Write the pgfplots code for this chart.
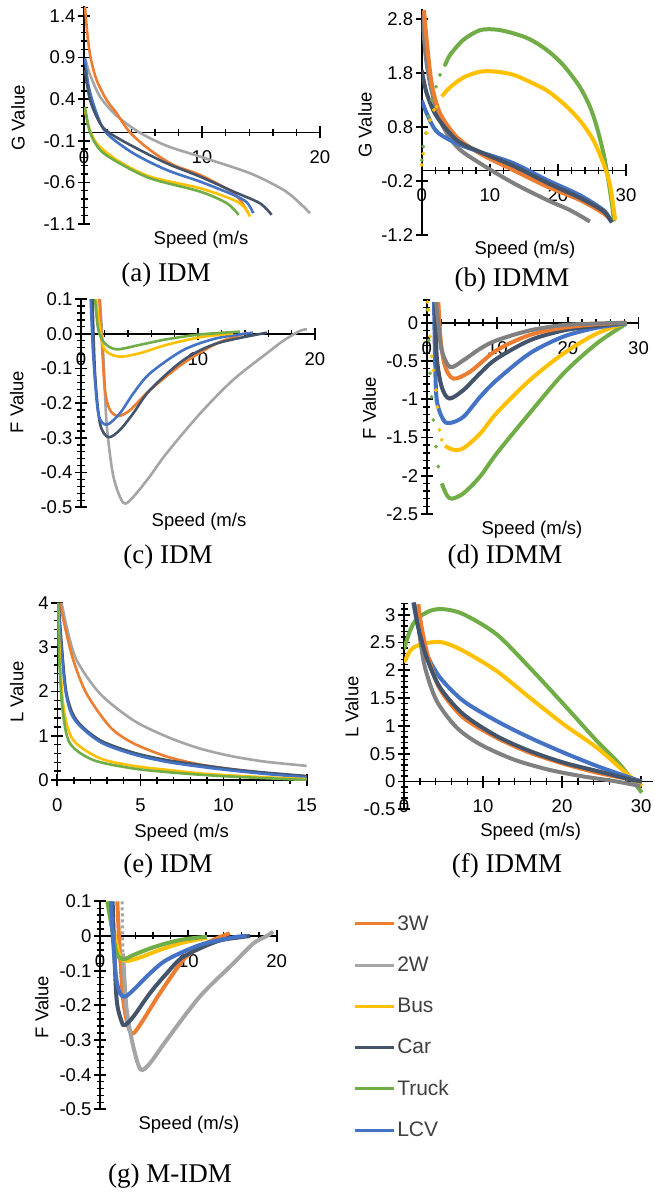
\documentclass[border=0pt]{standalone}
\usepackage{pgfplots}
\pgfplotsset{compat=1.18}
\usepackage{fontspec}
\setmainfont{Liberation Serif}
\newfontfamily\arial{Liberation Sans}

\definecolor{c3w}{HTML}{ED7D31}
\definecolor{c2w}{HTML}{A5A5A5}
\definecolor{c2wd}{HTML}{808080}
\definecolor{cbus}{HTML}{FFC000}
\definecolor{ccar}{HTML}{44546A}
\definecolor{ctruck}{HTML}{70AD47}
\definecolor{clcv}{HTML}{4472C4}

\newcommand\tickfont{\arial\fontsize{18.5}{20}\selectfont}
\newcommand\labfont{\arial\fontsize{18.5}{20}\selectfont}
\newcommand\capfont{\fontsize{27}{29}\selectfont}

\pgfplotsset{
  panel/.style={
    anchor=south west, scale only axis, enlargelimits=false,
    axis x line=middle, axis y line=left,
    axis line style={black, line width=1.6pt},
    every inner x axis line/.append style={-},
    every outer x axis line/.append style={-},
    every inner y axis line/.append style={-},
    every outer y axis line/.append style={-},
    tick align=center, major tick length=12pt, minor tick length=7pt,
    every tick/.style={draw=black, line width=1.8pt},
    every minor tick/.append style={line width=1.4pt},
    ticklabel style={font=\tickfont, text=black},
    xticklabel style={yshift=-9pt},
    yticklabel style={xshift=1pt},
    hide obscured x ticks=false, hide obscured y ticks=false,
  },
  idm/.style={smooth, line width=2.6pt},
  idmm/.style={smooth, line width=4pt},
  dots/.style={only marks, mark=*, mark size=1.7pt},
}

\begin{document}
\begin{tikzpicture}
\fill[white] (0,0) rectangle (654pt,-1192pt);
\useasboundingbox (0,0) rectangle (654pt,-1192pt);

% (a) IDM, G value
\begin{axis}[panel, at={(84pt,-224pt)}, width=236pt, height=218pt,
  xmin=0, xmax=20, ymin=-1.1, ymax=1.52,
  xtick={0,10,20}, xticklabels={0,10,20}, minor xtick={2,4,6,8,12,14,16,18},
  ytick={-1.1,-0.6,-0.1,0.4,0.9,1.4}, yticklabels={-1.1,-0.6,-0.1,0.4,0.9,1.4},
  minor ytick={-1.0,-0.9,-0.8,-0.7,-0.5,-0.4,-0.3,-0.2,0,0.1,0.2,0.3,0.5,0.6,0.7,0.8,1.0,1.1,1.2,1.3,1.5}]
\addplot[c2w, idm] coordinates {(0.1,0.89)(0.5,0.70)(1.36,0.43)(2.77,0.20)(4.7,0.0)(7,-0.16)(9.83,-0.29)(14.07,-0.49)(16.9,-0.69)(18.3,-0.85)(19.15,-0.97)};
\addplot[c3w, idm] coordinates {(0.08,1.51)(0.28,1.19)(0.56,0.90)(1.07,0.63)(1.92,0.39)(2.77,0.23)(3.90,0.0)(5.59,-0.21)(7.57,-0.39)(9.83,-0.51)(12.37,-0.70)(13.22,-0.81)(13.93,-0.97)};
\addplot[cbus, idm] coordinates {(0.08,0.27)(0.4,0.07)(1.07,-0.13)(2.77,-0.33)(5.59,-0.53)(9.83,-0.67)(12.66,-0.81)(13.6,-0.9)(14.07,-1.01)};
\addplot[ctruck, idm] coordinates {(0.08,0.31)(0.51,0.0)(1.36,-0.21)(2.77,-0.35)(5.59,-0.55)(9.83,-0.71)(12.1,-0.85)(13.1,-0.99)};
\addplot[clcv, idm] coordinates {(0.08,0.89)(0.4,0.55)(1.07,0.23)(1.92,-0.01)(4.18,-0.25)(7.0,-0.45)(9.83,-0.59)(12.66,-0.75)(13.8,-0.84)(14.35,-0.97)};
\addplot[ccar, idm] coordinates {(0.08,0.75)(0.51,0.39)(1.36,0.11)(2.2,-0.01)(4.18,-0.17)(7.0,-0.37)(9.83,-0.53)(12.66,-0.71)(14.9,-0.85)(15.9,-0.99)};
\end{axis}

% (b) IDMM, G value
\begin{axis}[panel, at={(421.7pt,-235pt)}, width=204.3pt, height=226.4pt,
  xmin=0, xmax=30, ymin=-1.2, ymax=3.0,
  xtick={0,10,20,30}, xticklabels={0,10,20,30}, minor xtick={2,4,6,8,12,14,16,18,22,24,26,28},
  ytick={-1.2,-0.2,0.8,1.8,2.8}, yticklabels={-1.2,-0.2,0.8,1.8,2.8}]
\addplot[ctruck, dots] coordinates {(0,0.19)(0.24,0.44)(0.64,0.69)(0.98,1.0)(1.47,1.30)(2.1,1.55)(2.69,1.77)(3.43,1.95)};
\addplot[ctruck, idmm] coordinates {(3.43,1.95)(4.16,2.14)(6.12,2.42)(8.57,2.60)(11.0,2.61)(13.5,2.54)(15.9,2.43)(18.4,2.23)(20.8,1.95)(23.2,1.55)(24.7,1.18)(25.7,0.81)(26.7,0.31)(27.4,-0.18)(28.0,-0.68)(28.2,-0.95)};
\addplot[cbus, dots] coordinates {(0,0.10)(0.24,0.31)(0.73,0.69)(1.22,0.93)(1.81,1.12)(2.2,1.18)};
\addplot[cbus, idmm] coordinates {(2.94,1.37)(4.16,1.54)(6.12,1.72)(8.57,1.83)(11.0,1.83)(13.5,1.77)(15.9,1.64)(18.4,1.48)(20.8,1.24)(23.2,0.93)(25.2,0.56)(26.7,0.12)(27.7,-0.30)(28.4,-0.92)};
\addplot[c2wd, idmm] coordinates {(0.15,2.91)(0.49,2.23)(1.22,1.61)(2.69,0.93)(5.14,0.44)(8.57,0.13)(13.5,-0.24)(18.4,-0.55)(21.8,-0.74)(24.7,-0.95)};
\addplot[c3w, idmm] coordinates {(0.34,2.97)(0.73,2.42)(1.47,1.61)(2.69,1.06)(5.14,0.62)(8.57,0.31)(13.5,0.0)(18.4,-0.30)(23.2,-0.55)(26.7,-0.80)(27.9,-0.95)};
\addplot[clcv, idmm] coordinates {(0,1.30)(0.73,1.06)(2.2,0.72)(5.14,0.50)(8.57,0.34)(13.5,0.13)(18.4,-0.18)(23.2,-0.46)(26.7,-0.74)(27.7,-0.92)};
\addplot[ccar, idmm] coordinates {(0,1.86)(0.73,1.43)(2.2,1.0)(5.14,0.56)(8.57,0.34)(13.5,0.08)(18.4,-0.23)(23.2,-0.51)(26.7,-0.76)(27.9,-0.97)};
\end{axis}

% (c) IDM, F value
\begin{axis}[panel, at={(81pt,-507.3pt)}, width=234pt, height=208.3pt,
  xmin=0, xmax=20, ymin=-0.5, ymax=0.1,
  xtick={0,10,20}, xticklabels={0,10,20}, minor xtick={2,4,6,8,12,14,16,18},
  ytick={-0.5,-0.4,-0.3,-0.2,-0.1,0,0.1}, yticklabels={-0.5,-0.4,-0.3,-0.2,-0.1,0.0,0.1},
  minor ytick={-0.48,-0.46,...,0.08}]
\addplot[c2w, idm] coordinates {(1.62,0.1)(1.91,-0.066)(2.19,-0.258)(2.76,-0.41)(3.62,-0.487)(4.47,-0.47)(5.9,-0.41)(7.32,-0.344)(10.2,-0.229)(13.0,-0.133)(15.9,-0.056)(17.3,-0.02)(18.7,0.008)(19.3,0.013)};
\addplot[c3w, idm] coordinates {(1.57,0.1)(1.77,-0.018)(2.05,-0.162)(2.48,-0.22)(3.19,-0.237)(4.19,-0.22)(5.9,-0.162)(8.75,-0.085)(11.6,-0.028)(14.2,0.003)};
\addplot[ccar, idm] coordinates {(0.98,0.1)(1.2,-0.114)(1.62,-0.258)(2.34,-0.298)(3.33,-0.277)(4.47,-0.229)(5.9,-0.162)(8.75,-0.076)(11.6,-0.028)(15.9,0.003)};
\addplot[clcv, idm] coordinates {(0.83,0.1)(1.05,-0.066)(1.48,-0.229)(2.19,-0.262)(3.33,-0.229)(4.47,-0.172)(5.9,-0.114)(8.75,-0.047)(11.6,-0.013)(14.7,0.003)};
\addplot[cbus, idm] coordinates {(1.28,0.1)(1.77,-0.018)(2.19,-0.052)(3.33,-0.066)(5.04,-0.056)(7.32,-0.032)(10.2,-0.01)(13.0,0.001)};
\addplot[ctruck, idm] coordinates {(1.2,0.1)(1.48,0.011)(2.05,-0.028)(3.05,-0.045)(5.04,-0.032)(7.32,-0.016)(10.2,-0.002)(13.6,0.006)};
\end{axis}

% (d) IDMM, F value
\begin{axis}[panel, at={(426.7pt,-514pt)}, width=211.8pt, height=214.2pt,
  xmin=0, xmax=30, ymin=-2.5, ymax=0.3,
  xtick={0,10,20,30}, xticklabels={0,10,20,30}, minor xtick={2,4,6,8,12,14,16,18,22,24,26,28},
  ytick={-2.5,-2,-1.5,-1,-0.5,0}, yticklabels={-2.5,-2,-1.5,-1,-0.5,0},
  minor ytick={-2.4,-2.3,...,0.25}]
\addplot[ctruck, dots] coordinates {(0.1,0.17)(0.28,-0.23)(0.47,-0.66)(0.71,-0.97)(0.94,-1.27)(1.32,-1.62)(1.65,-1.88)};
\addplot[ctruck, idmm] coordinates {(2.13,-2.10)(2.83,-2.25)(3.54,-2.30)(5.2,-2.23)(7.56,-2.01)(9.9,-1.71)(14.6,-1.18)(19.4,-0.66)(24.1,-0.27)(28.3,-0.01)};
\addplot[cbus, dots] coordinates {(0.1,0.27)(0.24,0.17)(0.47,-0.18)(0.71,-0.44)(0.94,-0.62)(1.32,-0.88)(1.51,-1.10)(1.8,-1.40)(2.13,-1.53)};
\addplot[cbus, idmm] coordinates {(2.6,-1.61)(3.78,-1.66)(5.2,-1.64)(7.56,-1.45)(9.9,-1.18)(14.6,-0.75)(19.4,-0.40)(24.1,-0.14)(28.3,0)};
\addplot[clcv, idmm] coordinates {(1.04,0.27)(1.18,-0.44)(1.42,-1.01)(2.36,-1.27)(3.31,-1.31)(5.2,-1.23)(7.56,-0.97)(9.9,-0.75)(14.6,-0.40)(19.4,-0.18)(24.1,-0.065)(28.3,-0.01)};
\addplot[ccar, idmm] coordinates {(1.23,0.27)(1.42,-0.44)(2.13,-0.84)(3.21,-0.99)(5.2,-0.88)(7.56,-0.66)(9.9,-0.47)(14.6,-0.23)(19.4,-0.10)(24.1,-0.04)(28.3,0)};
\addplot[c3w, idmm] coordinates {(1.65,0.27)(1.98,-0.23)(2.6,-0.57)(3.78,-0.73)(6.14,-0.64)(9.9,-0.36)(14.6,-0.16)(19.4,-0.065)(24.1,-0.02)(28.3,0)};
\addplot[c2wd, idmm] coordinates {(1.32,0.27)(1.65,-0.01)(2.13,-0.36)(3.31,-0.58)(5.2,-0.49)(7.56,-0.34)(9.9,-0.23)(14.6,-0.10)(19.4,-0.03)(24.1,-0.01)(28.3,0)};
\end{axis}

% (e) IDM, L value
\begin{axis}[panel, at={(57.3pt,-780pt)}, width=249.3pt, height=177.2pt,
  xmin=0, xmax=15, ymin=0, ymax=4,
  xtick={0,5,10,15}, xticklabels={0,5,10,15}, minor xtick={1,2,3,4,6,7,8,9,11,12,13,14},
  ytick={0,1,2,3,4}, yticklabels={0,1,2,3,4},
  minor ytick={0.2,0.4,...,3.9}]
\addplot[c2w, idm] coordinates {(0.26,4.0)(0.56,3.46)(1.16,2.71)(2.57,1.95)(4.57,1.35)(6.58,0.98)(8.58,0.71)(10.6,0.53)(12.6,0.41)(15,0.32)};
\addplot[c3w, idm] coordinates {(0.16,4.0)(0.46,3.46)(0.96,2.71)(1.76,1.95)(3.17,1.20)(4.57,0.83)(6.58,0.53)(8.58,0.35)(10.6,0.24)(12.6,0.15)(15,0.075)};
\addplot[ccar, idm] coordinates {(0.08,4)(0.26,3.08)(0.56,1.95)(1.16,1.35)(2.57,0.90)(4.57,0.62)(6.58,0.45)(8.58,0.34)(10.6,0.24)(12.6,0.165)(15,0.09)};
\addplot[clcv, idm] coordinates {(0.06,4)(0.22,3.08)(0.52,1.95)(1.06,1.35)(2.57,0.86)(4.57,0.58)(6.58,0.41)(8.58,0.30)(10.6,0.21)(12.6,0.135)(15,0.06)};
\addplot[cbus, idm] coordinates {(0.04,4)(0.16,2.71)(0.4,1.58)(0.96,0.90)(2.57,0.49)(4.57,0.32)(6.58,0.23)(8.58,0.15)(10.6,0.10)(12.6,0.06)(15,0.02)};
\addplot[ctruck, idm] coordinates {(0.02,4)(0.12,2.71)(0.32,1.58)(0.76,0.83)(2.17,0.45)(4.57,0.26)(6.58,0.18)(8.58,0.12)(10.6,0.075)(12.6,0.04)(15,0.0)};
\end{axis}

% (f) IDMM, L value
\begin{axis}[panel, at={(404pt,-809.3pt)}, width=248.9pt, height=206.8pt,
  xmin=0, xmax=31.5, ymin=-0.5, ymax=3.22,
  xtick={0,10,20,30}, xticklabels={0,10,20,30}, minor xtick={2,4,6,8,12,14,16,18,22,24,26,28},
  ytick={-0.5,0,0.5,1,1.5,2,2.5,3}, yticklabels={-0.5,0,0.5,1,1.5,2,2.5,3},
  minor ytick={-0.4,-0.3,...,3.2}]
\addplot[ctruck, idmm] coordinates {(0,2.38)(0.76,2.71)(1.6,2.92)(3.29,3.07)(4.98,3.10)(7.51,3.01)(11.7,2.65)(15.9,2.05)(20.2,1.39)(24.4,0.73)(27.3,0.31)(30.1,-0.20)};
\addplot[cbus, idmm] coordinates {(0,2.14)(0.76,2.35)(1.6,2.44)(3.29,2.50)(4.98,2.50)(7.51,2.35)(11.7,1.99)(15.9,1.51)(20.2,1.03)(24.4,0.61)(27.8,0.19)(30.1,-0.08)};
\addplot[c2wd, idmm] coordinates {(1.9,2.70)(2.66,2.05)(4.14,1.45)(6.67,0.97)(9.62,0.67)(13.8,0.40)(18.1,0.22)(22.3,0.10)(26.5,0.01)(29.9,-0.08)};
\addplot[clcv, idmm] coordinates {(1.18,3.22)(1.81,2.77)(2.87,2.29)(4.56,1.87)(7.51,1.45)(11.7,1.09)(15.9,0.79)(20.2,0.52)(24.4,0.28)(28.6,0.07)(30.1,0)};
\addplot[c3w, idmm] coordinates {(1.81,3.19)(2.24,2.77)(3.08,2.23)(4.56,1.66)(7.51,1.15)(11.7,0.79)(15.9,0.52)(20.2,0.32)(24.4,0.16)(28.6,0.04)(30.1,0)};
\addplot[ccar, idmm] coordinates {(1.27,3.22)(1.81,2.77)(2.87,2.23)(4.56,1.69)(7.51,1.21)(11.7,0.82)(15.9,0.55)(20.2,0.34)(24.4,0.19)(28.6,0.04)(30.1,0)};
\end{axis}

% (g) M-IDM, F value, with the legend
\begin{axis}[panel, at={(100pt,-1109.3pt)}, width=176.6pt, height=208pt,
  xmin=0, xmax=20, ymin=-0.5, ymax=0.1,
  xtick={0,10,20}, xticklabels={0,10,20}, minor xtick={2,4,6,8,12,14,16,18},
  ytick={-0.5,-0.4,-0.3,-0.2,-0.1,0,0.1}, yticklabels={-0.5,-0.4,-0.3,-0.2,-0.1,0,0.1},
  minor ytick={-0.48,-0.46,...,0.08},
  legend style={at={(1.416,0.95)}, anchor=north west, draw=none, fill=none,
    font=\arial\fontsize{21}{23}\selectfont, text=black!75, row sep=21pt,
    cells={anchor=west}},
  legend image code/.code={\draw[#1, line width=3pt] (0pt,0pt) -- (39pt,0pt);}]
\addplot[c3w, idmm] coordinates {(1.96,0.1)(2.19,-0.021)(2.64,-0.185)(3.21,-0.262)(3.77,-0.281)(4.9,-0.242)(6.79,-0.165)(9.43,-0.069)(11.3,-0.031)(13.2,-0.007)(14.7,0.008)};
\addplot[c2w, idmm] coordinates {(2.6,-0.05)(2.64,-0.069)(3.02,-0.213)(3.77,-0.319)(4.6,-0.385)(5.66,-0.367)(7.55,-0.30)(11.3,-0.175)(15.1,-0.079)(17.4,-0.021)(18.9,0)(19.6,0.0125)};
\addplot[cbus, idmm] coordinates {(1.06,0.1)(1.7,-0.002)(2.26,-0.06)(3.02,-0.072)(4.53,-0.062)(6.79,-0.04)(9.43,-0.019)(12.1,-0.005)};
\addplot[ccar, idmm] coordinates {(1.43,0.1)(1.58,-0.021)(1.89,-0.185)(2.45,-0.247)(2.83,-0.257)(3.77,-0.233)(5.66,-0.165)(7.55,-0.108)(9.43,-0.06)(13.2,-0.016)(15.8,-0.004)(17,0)};
\addplot[ctruck, idmm] coordinates {(0.83,0.1)(1.32,0.027)(1.89,-0.05)(2.64,-0.067)(3.77,-0.055)(5.66,-0.036)(7.55,-0.021)(9.43,-0.01)(12.1,-0.002)};
\addplot[clcv, idmm] coordinates {(1.25,0.1)(1.43,0.008)(1.81,-0.117)(2.26,-0.165)(2.83,-0.175)(3.77,-0.156)(5.66,-0.108)(7.55,-0.069)(11.3,-0.026)(15.1,-0.004)(16.6,0)};
\addplot[c2w, line width=3pt, dashed, forget plot] coordinates {(2.5,0.1)(2.55,0.02)(2.6,-0.05)};
\legend{3W,2W,Bus,Car,Truck,LCV}
\end{axis}

% axis titles
\node[font=\labfont, rotate=90] at (18pt,-118pt) {G Value};
\node[font=\labfont] at (201pt,-240pt) {Speed (m/s};
\node[font=\labfont, rotate=90] at (365pt,-125pt) {G Value};
\node[font=\labfont] at (525pt,-250pt) {Speed (m/s)};
\node[font=\labfont, rotate=90] at (16.7pt,-402pt) {F Value};
\node[font=\labfont] at (199pt,-522pt) {Speed (m/s};
\node[font=\labfont, rotate=90] at (369.3pt,-408pt) {F Value};
\node[font=\labfont] at (532pt,-530pt) {Speed (m/s)};
\node[font=\labfont, rotate=90] at (16.7pt,-692pt) {L Value};
\node[font=\labfont] at (181.7pt,-833pt) {Speed (m/s};
\node[font=\labfont, rotate=90] at (351.7pt,-707pt) {L Value};
\node[font=\labfont] at (530.7pt,-832pt) {Speed (m/s)};
\node[font=\labfont, rotate=90] at (41.7pt,-1007pt) {F Value};
\node[font=\labfont] at (189pt,-1125pt) {Speed (m/s)};

% panel captions
\node[font=\capfont] at (166pt,-275pt) {(a) IDM};
\node[font=\capfont] at (512pt,-280pt) {(b) IDMM};
\node[font=\capfont] at (168pt,-557pt) {(c) IDM};
\node[font=\capfont] at (505pt,-557pt) {(d) IDMM};
\node[font=\capfont] at (168pt,-866pt) {(e) IDM};
\node[font=\capfont] at (507pt,-866pt) {(f) IDMM};
\node[font=\capfont] at (170pt,-1176pt) {(g) M-IDM};
\end{tikzpicture}
\end{document}
